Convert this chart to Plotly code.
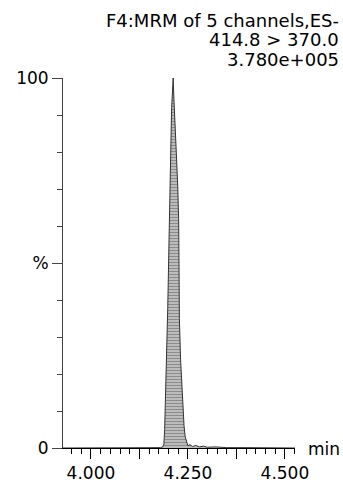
import plotly.graph_objects as go

# chromatogram trace (retention time in min, relative intensity in %)
tiempo = [3.928, 4.000, 4.100, 4.170, 4.180, 4.185, 4.188, 4.190, 4.192, 4.195,
          4.198, 4.202, 4.205, 4.208, 4.211, 4.212, 4.214, 4.217, 4.220, 4.224,
          4.226, 4.227, 4.228, 4.231, 4.235, 4.240, 4.243, 4.247, 4.250, 4.255,
          4.262, 4.270, 4.280, 4.290, 4.300, 4.320, 4.350, 4.400, 4.450, 4.526]
intensidad = [0, 0, 0, 0, 0.1, 0.3, 1, 5, 12, 24,
              38, 60, 80, 92, 98, 100, 94, 88, 80, 70,
              62, 50, 35, 24, 14, 6, 3, 1.2, 0.6, 0.9,
              0.4, 0.7, 0.3, 0.5, 0.2, 0.3, 0.1, 0.1, 0, 0]

titulo = ["F4:MRM of 5 channels,ES-", "414.8 > 370.0", "3.780e+005"]

x_ticks = [4.000, 4.125, 4.250, 4.375, 4.500]
x_labels = ["4.000", "", "4.250", "", "4.500"]
y_ticks = [0, 50, 100]
y_labels = ["0", "%", "100"]

fuente = dict(family="DejaVu Sans", size=17, color="black")
fuente_tit = dict(family="DejaVu Sans", size=18, color="black")

fig = go.Figure()
fig.add_trace(go.Scatter(
    x=tiempo,
    y=intensidad,
    mode="lines",
    line=dict(color="#333333", width=1),
    fill="tozeroy",
    fillcolor="#bdbdbd",
    fillpattern=dict(shape="-", size=3, solidity=0.5,
                     fgcolor="#4a4a4a", bgcolor="#cccccc"),
    hoverinfo="skip",
))

fig.update_layout(
    width=343,
    height=484,
    margin=dict(l=63, r=48, t=78, b=36),
    plot_bgcolor="white",
    paper_bgcolor="white",
    showlegend=False,
    font=fuente,
    xaxis=dict(
        range=[3.928, 4.526],
        automargin=False,
        showgrid=False,
        zeroline=False,
        showline=True,
        linecolor="black",
        linewidth=1,
        ticks="outside",
        ticklen=10,
        tickcolor="black",
        tickvals=x_ticks,
        ticktext=x_labels,
        tickfont=fuente,
        minor=dict(tick0=4.0, dtick=0.025, ticks="outside",
                   ticklen=5, tickcolor="black", showgrid=False),
    ),
    yaxis=dict(
        range=[0, 100],
        automargin=False,
        showgrid=False,
        zeroline=False,
        showline=True,
        linecolor="#444444",
        linewidth=1,
        ticks="outside",
        ticklen=10,
        tickcolor="#444444",
        tickvals=y_ticks,
        ticktext=y_labels,
        tickfont=fuente,
        minor=dict(tick0=0, dtick=10, ticks="outside",
                   ticklen=5, tickcolor="#444444", showgrid=False),
    ),
)

# header text, top right
for i, linea in enumerate(titulo):
    fig.add_annotation(
        text=linea, xref="paper", yref="paper",
        x=(341 - 63) / 232, y=1 + (78 - 20 - 19.5 * i) / 370,
        xanchor="right", yanchor="middle", showarrow=False,
        font=fuente_tit,
    )

fig.add_annotation(
    text="min", xref="paper", yref="paper",
    x=(306 - 63) / 232, y=(448 - 449) / 370,
    xanchor="left", yanchor="middle", showarrow=False,
    font=dict(family="DejaVu Sans", size=17, color="black"),
)

# no page margin / scrollbars so the figure fills the window exactly
fig.write_html(
    "out.html",
    config={"displayModeBar": False},
    post_script="document.body.style.margin='0';"
                "document.documentElement.style.overflow='hidden';",
)
